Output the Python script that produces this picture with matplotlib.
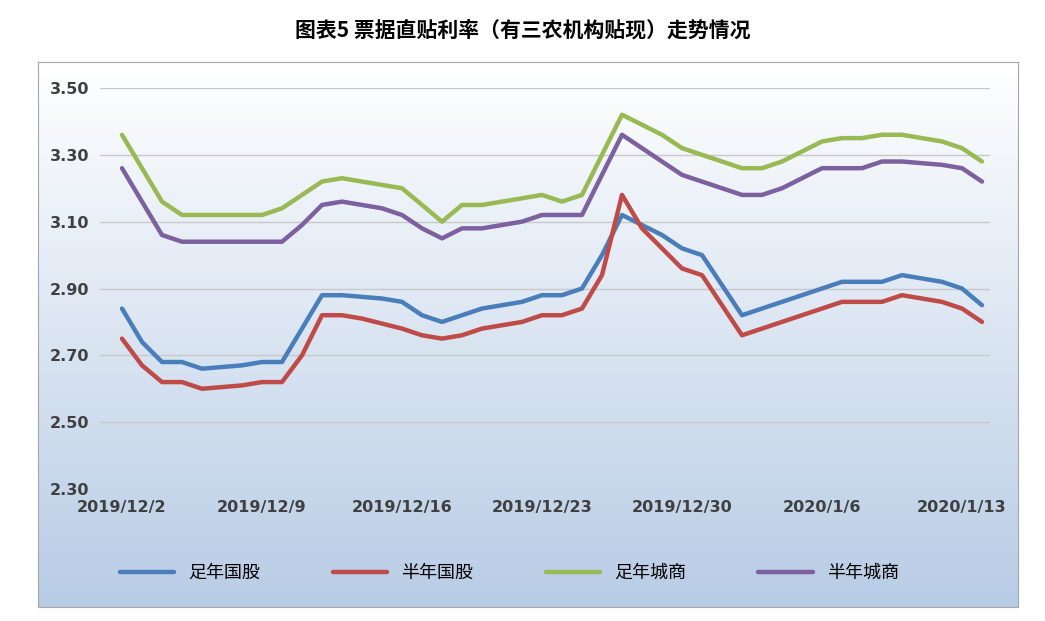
import matplotlib
matplotlib.use("Agg")
import matplotlib.pyplot as plt
import numpy as np
from matplotlib import font_manager as fm

cjk = None
for f in fm.fontManager.ttflist:
    if "CJK" in f.name and ("SC" in f.name or cjk is None):
        cjk = f.name
        if "SC" in f.name:
            break
plt.rcParams["font.family"] = [cjk or "Noto Sans CJK SC", "DejaVu Sans"]

tick_labels = ["2019/12/2", "2019/12/9", "2019/12/16", "2019/12/23", "2019/12/30", "2020/1/6", "2020/1/13"]
zu_guogu = [2.84,2.74,2.68,2.68,2.66,2.665,2.67,2.68,2.68,2.78,2.88,2.88,2.875,2.87,2.86,2.82,2.80,2.82,2.84,2.85,2.86,2.88,2.88,2.90,3.00,3.12,3.09,3.06,3.02,3.00,2.91,2.82,2.84,2.86,2.88,2.90,2.92,2.92,2.92,2.94,2.93,2.92,2.90,2.85]
ban_guogu = [2.75,2.67,2.62,2.62,2.60,2.605,2.61,2.62,2.62,2.70,2.82,2.82,2.81,2.795,2.78,2.76,2.75,2.76,2.78,2.79,2.80,2.82,2.82,2.84,2.94,3.18,3.08,3.02,2.96,2.94,2.85,2.76,2.78,2.80,2.82,2.84,2.86,2.86,2.86,2.88,2.87,2.86,2.84,2.80]
zu_chengshang = [3.36,3.26,3.16,3.12,3.12,3.12,3.12,3.12,3.14,3.18,3.22,3.23,3.22,3.21,3.20,3.15,3.10,3.15,3.15,3.16,3.17,3.18,3.16,3.18,3.30,3.42,3.39,3.36,3.32,3.30,3.28,3.26,3.26,3.28,3.31,3.34,3.35,3.35,3.36,3.36,3.35,3.34,3.32,3.28]
ban_chengshang = [3.26,3.16,3.06,3.04,3.04,3.04,3.04,3.04,3.04,3.09,3.15,3.16,3.15,3.14,3.12,3.08,3.05,3.08,3.08,3.09,3.10,3.12,3.12,3.12,3.24,3.36,3.32,3.28,3.24,3.22,3.20,3.18,3.18,3.20,3.23,3.26,3.26,3.26,3.28,3.28,3.275,3.27,3.26,3.22]
names = ["足年国股", "半年国股", "足年城商", "半年城商"]
colors = ["#4a7ebb", "#be4b48", "#98b954", "#7d60a0"]

W, H = 1045, 621
fig = plt.figure(figsize=(W/100, H/100), dpi=100)

px0, px1, py0, py1 = 38, 1018, 62, 607
bg = fig.add_axes([px0/W, 1-py1/H, (px1-px0)/W, (py1-py0)/H])
grad = np.linspace(0, 1, 256).reshape(-1, 1)
top = np.array([1.0, 1.0, 1.0]); bot = np.array([0.72, 0.80, 0.90])
img = top + (bot - top) * grad[..., None]
bg.imshow(img, aspect="auto", extent=[0, 1, 0, 1], origin="upper")
bg.set_xticks([]); bg.set_yticks([])
for s in bg.spines.values():
    s.set_color("#a6a6a6")

fig.text(0.5, 1-30/H, "图表5 票据直贴利率（有三农机构贴现）走势情况", ha="center", va="center",
         fontsize=15, fontweight="bold")

l, r, t, b = 100, 990, 88, 489
ax = fig.add_axes([l/W, 1-b/H, (r-l)/W, (b-t)/H])
ax.patch.set_alpha(0)
x = np.arange(len(zu_guogu))
for ys, n, c in zip([zu_guogu, ban_guogu, zu_chengshang, ban_chengshang], names, colors):
    ax.plot(x, ys, color=c, lw=3.2, label=n, solid_capstyle="round")
ax.set_xlim(-1.1, 43.4)
ax.set_ylim(2.30, 3.50)
yt = np.arange(2.30, 3.51, 0.20)
ax.set_yticks(yt)
ax.set_yticklabels([f"{v:.2f}" for v in yt], fontsize=11.5, fontweight="bold", color="#404040", family="DejaVu Sans")
ax.set_xticks(np.arange(0, 43, 7))
ax.set_xticklabels(tick_labels, fontsize=11.5, fontweight="bold", color="#404040", family="DejaVu Sans")
ax.tick_params(length=0, pad=8)
ax.grid(axis="y", color="#c8c8c8", lw=1)
for s in ax.spines.values():
    s.set_visible(False)
ax.legend(loc="center", bbox_to_anchor=(0.46, -0.21), ncol=4, frameon=False,
          handlelength=3, columnspacing=4, prop={"family": cjk or "Noto Sans CJK SC", "size": 13})
fig.savefig("out.png", dpi=100)
